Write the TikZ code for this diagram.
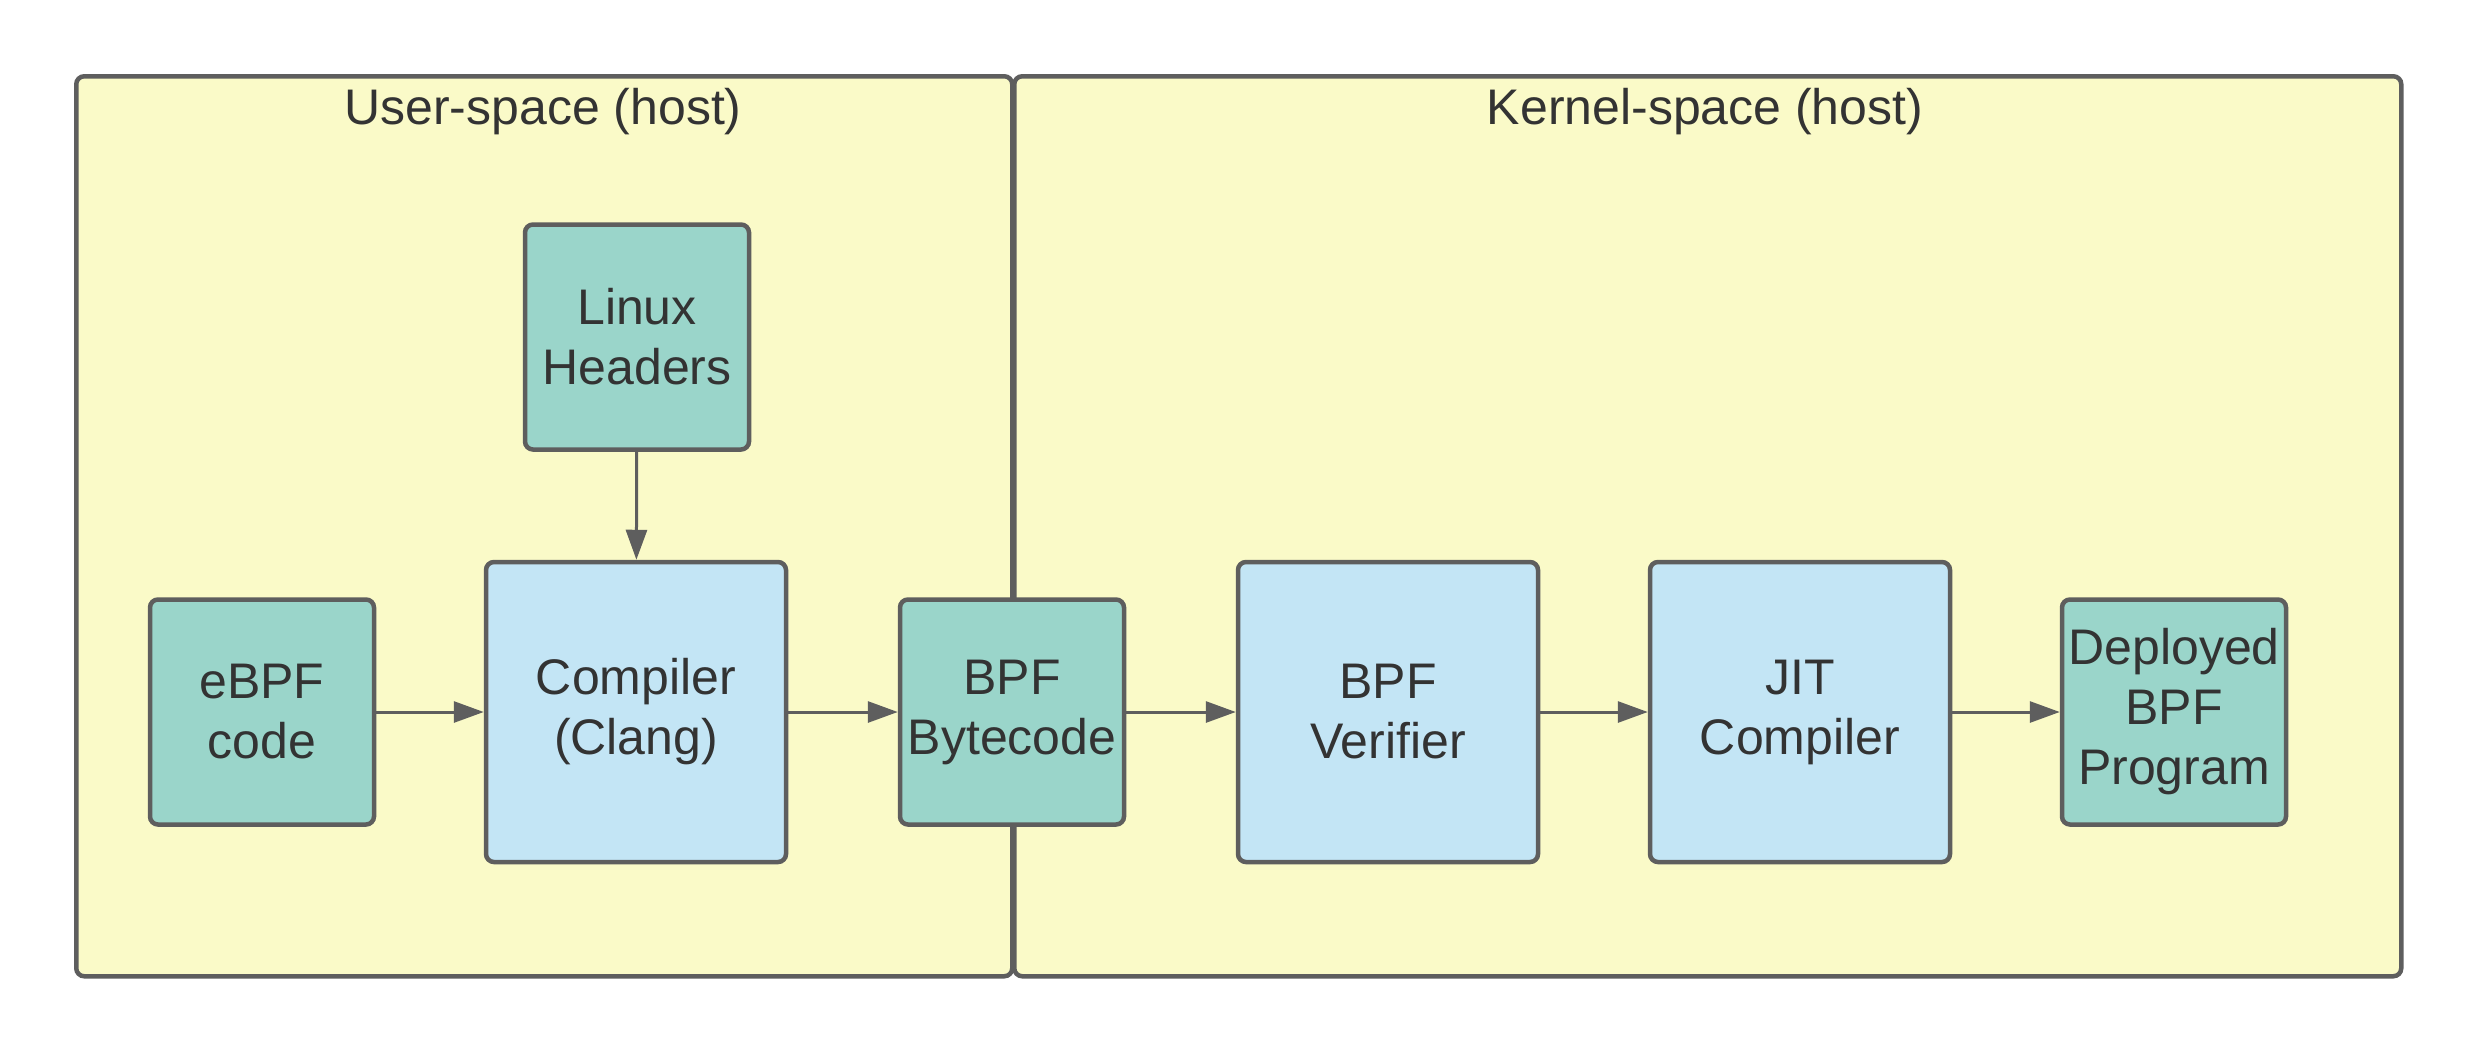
\documentclass[tikz,border=0pt]{standalone}
\usepackage{fontspec}
\setmainfont{Liberation Sans}
\usetikzlibrary{arrows.meta}
\definecolor{zonefill}{HTML}{FAFAC8}
\definecolor{tealfill}{HTML}{9AD5CA}
\definecolor{bluefill}{HTML}{C3E5F5}
\definecolor{edgegray}{HTML}{5E5E5E}
\definecolor{txtgray}{HTML}{333333}
\tikzset{
  zone/.style={draw=edgegray, fill=zonefill, line width=4.5pt, rounded corners=8pt, inner sep=0pt, anchor=north west},
  title/.style={text=txtgray, font=\fontsize{50}{60}\selectfont, inner sep=0pt},
  box/.style={draw=edgegray, line width=4.5pt, rounded corners=8pt, inner sep=0pt, align=center,
    text=txtgray, font=\fontsize{50}{60}\selectfont},
  smallbox/.style={box, fill=tealfill, minimum width=224pt, minimum height=225pt},
  bigbox/.style={box, fill=bluefill, minimum width=300pt, minimum height=300pt},
  flow/.style={draw=edgegray, line width=3pt, -{Triangle[length=30pt,width=21pt]}}
}
\begin{document}
\begin{tikzpicture}[x=1pt,y=-1pt]
\useasboundingbox (0,0) rectangle (2475,1050);
\node[zone, minimum width=936pt, minimum height=900pt] (user) at (74,74) {};
\node[zone, minimum width=1387pt, minimum height=900pt] (kernel) at (1012,74) {};
\node[title] (usertitle) at (543,112) {User-space (host)};
\node[title] (kerneltitle) at (1705,112) {Kernel-space (host)};

\node[smallbox] (headers) at (637,337) {Linux\\Headers};
\node[bigbox] (compiler) at (636,712) {Compiler\\(Clang)};
\node[smallbox] (code) at (262,712) {eBPF\\code};
\node[smallbox] (bytecode) at (1012,712) {BPF\\Bytecode};
\node[bigbox] (verifier) at (1388,712) {BPF\\Verifier};
\node[bigbox] (jit) at (1800,712) {JIT\\Compiler};
\node[smallbox] (deployed) at (2174,712) {Deployed\\BPF\\Program};

\draw[flow] (headers) -- (compiler);
\draw[flow] (code) -- (compiler);
\draw[flow] (compiler) -- (bytecode);
\draw[flow] (bytecode) -- (verifier);
\draw[flow] (verifier) -- (jit);
\draw[flow] (jit) -- (deployed);
\end{tikzpicture}
\end{document}
